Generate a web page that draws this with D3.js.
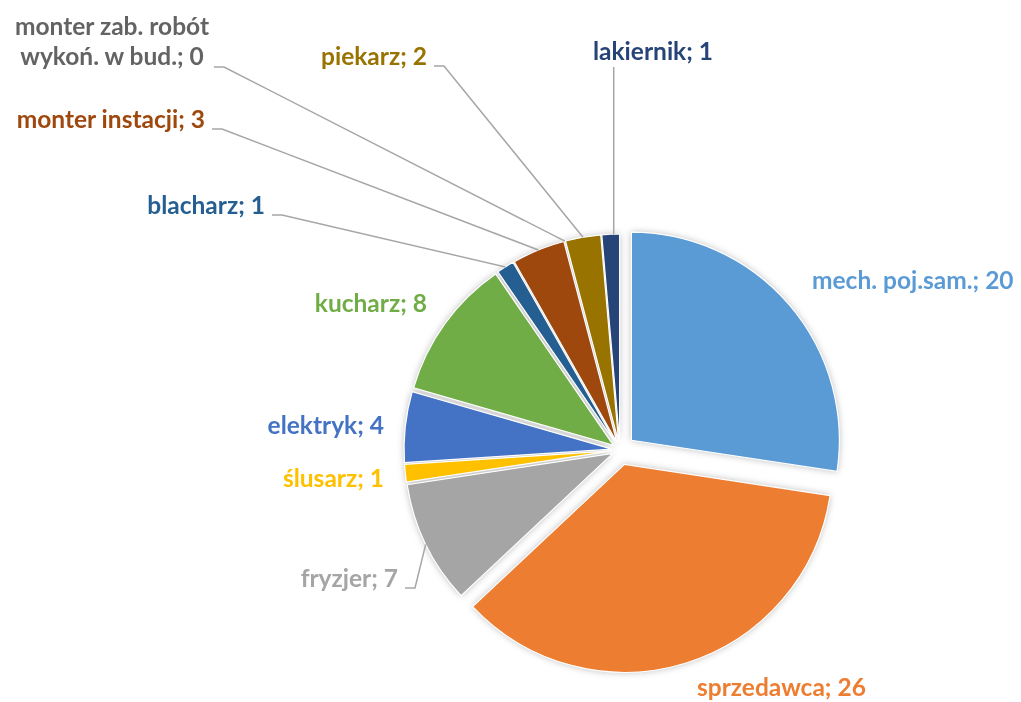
<!DOCTYPE html>
<html>
<head>
<meta charset="utf-8">
<script src="https://cdn.jsdelivr.net/npm/d3@7"></script>
<style>
  body { margin: 0; background: #fff; }
  text { font-family: Lato, "Open Sans", sans-serif; font-weight: 700; }
</style>
</head>
<body>
<svg id="chart" width="1021" height="702"></svg>
<script>
// Chart data
const categories = ["mech. poj.sam.", "sprzedawca", "fryzjer", "ślusarz", "elektryk", "kucharz",
  "blacharz", "monter instacji", "monter zab. robót wykoń. w bud.", "piekarz", "lakiernik"];
const values = [20, 26, 7, 1, 4, 8, 1, 3, 0, 2, 1];
const colors = ["#5B9BD5", "#ED7D31", "#A5A5A5", "#FFC000", "#4472C4", "#70AD47",
  "#255E91", "#9E480E", "#636363", "#997300", "#264478"];

const cx = 620, cy = 450, radius = 208;
const bigExplode = 15, smallExplode = 8;   // first two slices pulled out further

// where Excel put each label (text anchor point, baseline)
const labelLayout = [
  { x: 812, y: 289, anchor: "start" },
  { x: 697, y: 696, anchor: "start" },
  { x: 398, y: 587, anchor: "end", leader: "side" },
  { x: 384, y: 487, anchor: "end" },
  { x: 384, y: 434, anchor: "end" },
  { x: 427, y: 312, anchor: "end" },
  { x: 265, y: 214, anchor: "end", leader: "side" },
  { x: 205, y: 128, anchor: "end", leader: "side" },
  { x: 112, y: 35, anchor: "middle", lines: ["monter zab. robót", "wykoń. w bud.; 0"], leader: "side", lx: 207 },
  { x: 427, y: 65, anchor: "end", leader: "side" },
  { x: 593, y: 60, anchor: "start", leader: "down" }
];

const svg = d3.select("#chart");

const defs = svg.append("defs");
const blur = defs.append("filter").attr("id", "shadow")
  .attr("x", "-20%").attr("y", "-20%").attr("width", "140%").attr("height", "140%");
blur.append("feGaussianBlur").attr("stdDeviation", 3.5);

const pie = d3.pie().sort(null).value(d => d.value);
const arcs = pie(categories.map((c, i) => ({ name: c, value: values[i], color: colors[i], i })));

const arc = d3.arc().innerRadius(0).outerRadius(radius);

function offsetOf(d) {
  const e = d.data.i < 2 ? bigExplode : smallExplode;
  const a = (d.startAngle + d.endAngle) / 2;
  return [e * Math.sin(a), -e * Math.cos(a)];
}

const g = svg.append("g").attr("transform", `translate(${cx},${cy})`);

// soft shadows behind the slices
g.append("g").attr("filter", "url(#shadow)")
  .selectAll("path")
  .data(arcs.filter(d => d.value > 0))
  .join("path")
  .attr("transform", d => `translate(${offsetOf(d)})`)
  .attr("d", arc)
  .attr("fill", "#000")
  .attr("opacity", 0.28);

g.append("g")
  .selectAll("path")
  .data(arcs.filter(d => d.value > 0))
  .join("path")
  .attr("transform", d => `translate(${offsetOf(d)})`)
  .attr("d", arc)
  .attr("fill", d => d.data.color)
  .attr("stroke", "#fff")
  .attr("stroke-width", 1.2);

// leader lines
const line = d3.line();
function edgePoint(d) {
  const a = (d.startAngle + d.endAngle) / 2;
  const [ox, oy] = offsetOf(d);
  return [cx + ox + radius * Math.sin(a), cy + oy - radius * Math.cos(a)];
}

arcs.forEach((d, i) => {
  const L = labelLayout[i];
  if (!L.leader) return;
  const p = edgePoint(d);
  let pts;
  if (L.leader === "down") {
    pts = [[p[0] + 3, L.y + 7], [p[0] + 3, p[1]]];
  } else {
    const x0 = (L.lx || L.x) + 7;
    const y0 = L.lines ? L.y + 32 : L.y + 1;
    pts = [[x0, y0], [x0 + 10, y0], p];
  }
  svg.append("path")
    .attr("d", line(pts))
    .attr("fill", "none")
    .attr("stroke", "#A6A6A6")
    .attr("stroke-width", 1.5);
});

// labels
arcs.forEach((d, i) => {
  const L = labelLayout[i];
  const t = svg.append("text")
    .attr("x", L.x)
    .attr("y", L.y)
    .attr("text-anchor", L.anchor)
    .attr("fill", d.data.color)
    .style("font-size", "24.5px");
  if (L.lines) {
    L.lines.forEach((s, k) => {
      t.append("tspan").attr("x", L.x).attr("dy", k === 0 ? 0 : 30).text(s);
    });
  } else {
    t.text(`${d.data.name}; ${d.data.value}`);
  }
});
</script>
</body>
</html>
